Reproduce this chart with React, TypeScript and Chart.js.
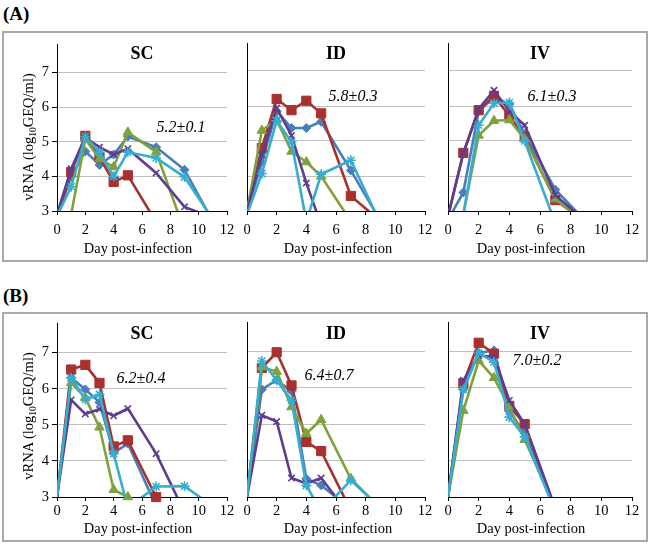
import React, { useEffect, useRef } from "react";
import { Chart, registerables } from "chart.js";
Chart.register(...registerables);

// ---------- data ----------
const days = [0, 1, 2, 3, 4, 5, 7, 9, 11];
const xTicks = [0, 2, 4, 6, 8, 10, 12];
const yTicks = [3, 4, 5, 6, 7];
const panelTitles = ["SC", "ID", "IV"];
const rowLabels = ["(A)", "(B)"];
const meanLabelsA = ["5.2±0.1", "5.8±0.3", "6.1±0.3"];
const meanLabelsB = ["6.2±0.4", "6.4±0.7", "7.0±0.2"];
const xAxisTitle = "Day post-infection";

// Row A — SC
const aScBlue = [2.85, 4.0, 4.72, 4.33, 4.63, 5.15, 4.84, 4.19, 2.7];
const aScRed = [2.8, 4.12, 5.17, 4.55, 3.84, 4.03, 2.68, null, null];
const aScGreen = [2.5, 2.9, 5.08, 4.5, 4.27, 5.27, 4.7, 2.43, null];
const aScPurple = [2.9, 4.22, 5.12, 4.84, 4.63, 4.8, 4.1, 3.12, 2.8];
const aScCyan = [2.85, 3.7, 5.15, 4.7, 4.0, 4.7, 4.53, 3.98, 2.76];
// Row A — ID
const aIdBlue = [3.0, 4.4, 5.85, 5.37, 5.37, 5.55, 4.16, 2.71, null];
const aIdRed = [3.0, 4.8, 6.2, 5.88, 6.15, 5.79, 3.43, 2.71, null];
const aIdGreen = [3.0, 5.3, 5.6, 4.7, 4.4, 3.99, 2.71, null, null];
const aIdPurple = [3.0, 4.6, 5.94, 5.16, 3.8, 2.6, null, null, null];
const aIdCyan = [2.9, 4.07, 5.58, 4.97, 2.7, 4.05, 4.45, 2.64, null];
// Row A — IV
const aIvBlue = [2.75, 3.53, 5.85, 6.25, 6.05, 5.2, 3.61, 2.7, null];
const aIvRed = [2.85, 4.66, 5.88, 6.29, 5.72, 5.11, 3.31, 2.69, null];
const aIvGreen = [2.5, 2.9, 5.16, 5.58, 5.6, 5.06, 3.34, 2.66, null];
const aIvPurple = [2.85, 4.65, 5.92, 6.45, 5.85, 5.45, 3.45, 2.7, null];
const aIvCyan = [2.5, 2.9, 5.45, 6.08, 6.1, 5.0, 2.65, null, null];
// Row B — SC
const bScBlue = [3, 6.3, 5.98, 5.62, 4.22, 4.48, 2.74, null, null];
const bScRed = [3, 6.53, 6.66, 6.16, 4.4, 4.57, 3.0, null, null];
const bScGreen = [3, 6.16, 5.75, 4.93, 3.2, 3.0, null, null, null];
const bScPurple = [3, 5.69, 5.3, 5.43, 5.25, 5.45, 4.2, 2.58, null];
const bScCyan = [3, 6.3, 5.7, 5.84, 4.2, 2.7, 3.29, 3.3, 2.74];
// Row B — ID
const bIdBlue = [3, 5.95, 6.21, 5.9, 3.5, 3.32, 2.67, null, null];
const bIdRed = [3, 6.54, 6.97, 6.06, 4.51, 4.26, 2.63, null, null];
const bIdGreen = [3, 6.56, 6.44, 5.47, 4.74, 5.12, 3.5, 2.69, null];
const bIdPurple = [3, 5.24, 5.07, 3.52, 3.37, 3.52, 2.46, null, null];
const bIdCyan = [3, 6.73, 6.2, 5.65, 3.32, 2.6, 3.46, 2.7, null];
// Row B — IV
const bIvBlue = [3, 5.95, 6.95, 7.02, 5.35, 4.75, 2.65, null, null];
const bIvRed = [3, 6.12, 7.23, 6.93, 5.5, 5.0, 2.65, null, null];
const bIvGreen = [3, 5.37, 6.74, 6.27, 5.47, 4.57, 2.7, null, null];
const bIvPurple = [3, 6.2, 6.88, 6.85, 5.65, 5.0, 2.7, null, null];
const bIvCyan = [3, 5.95, 6.95, 6.7, 5.19, 4.65, 2.6, null, null];

// ---------- styles ----------
const FONT = "'Liberation Serif', 'Times New Roman', serif";
const seriesStyles = [
  { color: "#4A7EBB", style: "rectRot", r: 4.5, bw: 1 },
  { color: "#A8302E", style: "rect", r: 6.5, bw: 1 },
  { color: "#7FA23A", style: "triangle", r: 5.5, bw: 1 },
  { color: "#5E3D91", style: "crossRot", r: 4.5, bw: 1.6 },
  { color: "#36AED0", style: "star", r: 5, bw: 1.6 },
];

const cols = [
  { l: 57, r: 227 },
  { l: 247, r: 425 },
  { l: 448, r: 632 },
];
const rows = [
  { top: 43, bottom: 211, tickPad: 6 },
  { top: 322, bottom: 497, tickPad: 1 },
];

const PADL = 24;
const PADR = 14;
const PADT = 10;
const XH = 30;

function Panel({ col, row, series, showY }: any) {
  const ref = useRef<HTMLCanvasElement>(null);
  const width = col.r - col.l + PADL + PADR;
  const height = row.bottom - row.top + PADT + XH;
  useEffect(() => {
    const datasets: any[] = [];
    series.forEach((vals: (number | null)[], i: number) => {
      const s = seriesStyles[i];
      const pts = days
        .map((d, k) => ({ x: d, y: vals[k] }))
        .filter((p) => p.y !== null && p.y !== undefined);
      datasets.push({
        data: pts,
        showLine: true,
        borderColor: s.color,
        backgroundColor: s.color,
        borderWidth: 2.6,
        pointRadius: 0,
        tension: 0,
        clip: 0,
        order: (4 - i) * 2 + 1,
      });
      datasets.push({
        data: pts.filter((p) => p.x > 0 && (p.y as number) >= 3),
        showLine: false,
        pointStyle: s.style,
        pointRadius: s.r,
        pointBackgroundColor: s.color,
        pointBorderColor: s.color,
        pointBorderWidth: s.bw,
        clip: false,
        order: (4 - i) * 2,
      });
    });
    const chart = new Chart(ref.current as HTMLCanvasElement, {
      type: "scatter",
      data: { datasets },
      options: {
        responsive: false,
        animation: false,
        events: [],
        layout: { padding: { top: PADT, right: PADR, left: 0, bottom: 0 } },
        plugins: {
          legend: { display: false },
          tooltip: { enabled: false },
          title: { display: false },
        },
        scales: {
          x: {
            type: "linear",
            min: 0,
            max: 12,
            afterBuildTicks: (s: any) => {
              s.ticks = xTicks.map((v) => ({ value: v }));
            },
            afterFit: (s: any) => {
              s.height = XH;
            },
            ticks: {
              autoSkip: false,
              maxRotation: 0,
              padding: row.tickPad,
              color: "#000",
              font: { family: FONT, size: 14.5 },
            },
            grid: {
              drawOnChartArea: false,
              drawTicks: true,
              tickLength: 4,
              tickColor: "#000",
            },
            border: { color: "#000", width: 1 },
          },
          y: {
            type: "linear",
            min: 3,
            max: 7.8,
            afterBuildTicks: (s: any) => {
              s.ticks = yTicks.map((v) => ({ value: v }));
            },
            afterFit: (s: any) => {
              s.width = PADL;
            },
            ticks: {
              display: showY,
              padding: 3,
              color: "#000",
              font: { family: FONT, size: 14.5 },
            },
            grid: {
              color: (ctx: any) =>
                ctx.tick && ctx.tick.value === 3 ? "rgba(0,0,0,0)" : "#BFBFBF",
              drawTicks: showY,
              tickLength: 5,
              tickColor: "#000",
              lineWidth: 1,
            },
            border: { color: "#000", width: 1 },
          },
        },
      } as any,
    });
    return () => chart.destroy();
  }, []);
  return (
    <canvas
      ref={ref}
      width={width}
      height={height}
      style={{
        position: "absolute",
        left: col.l - PADL,
        top: row.top - PADT,
        width,
        height,
      }}
    />
  );
}

function Txt({ x, y, children, style }: any) {
  return (
    <div
      style={{
        position: "absolute",
        left: x,
        top: y,
        transform: "translate(-50%, -50%)",
        whiteSpace: "nowrap",
        lineHeight: 1,
        ...style,
      }}
    >
      {children}
    </div>
  );
}

export default function App() {
  const rowSeries = [
    [
      [aScBlue, aScRed, aScGreen, aScPurple, aScCyan],
      [aIdBlue, aIdRed, aIdGreen, aIdPurple, aIdCyan],
      [aIvBlue, aIvRed, aIvGreen, aIvPurple, aIvCyan],
    ],
    [
      [bScBlue, bScRed, bScGreen, bScPurple, bScCyan],
      [bIdBlue, bIdRed, bIdGreen, bIdPurple, bIdCyan],
      [bIvBlue, bIvRed, bIvGreen, bIvPurple, bIvCyan],
    ],
  ];
  const boxes = [
    { top: 31, bottom: 262, labelY: 13 },
    { top: 312, bottom: 542, labelY: 295 },
  ];
  const titleY = [53, 333];
  const dayLabelY = [248, 528];
  const dayLabelX = [138, 338, 531];
  const yLabelY = [137, 416];
  const meanPos = [
    [
      [181, 127],
      [353, 96],
      [552, 96],
    ],
    [
      [141, 378],
      [329, 375],
      [537, 360],
    ],
  ];
  const meanLabels = [meanLabelsA, meanLabelsB];

  return (
    <div
      style={{
        position: "absolute",
        left: 0,
        top: 0,
        width: 650,
        height: 544,
        background: "#fff",
        fontFamily: FONT,
        color: "#000",
        overflow: "hidden",
      }}
    >
      {boxes.map((b, ri) => (
        <React.Fragment key={"box" + ri}>
          <div
            style={{
              position: "absolute",
              left: 2,
              top: b.top,
              width: 646,
              height: b.bottom - b.top,
              boxSizing: "border-box",
              border: "2px solid #A9A9A9",
            }}
          />
          <div
            style={{
              position: "absolute",
              left: 3,
              top: b.labelY,
              transform: "translateY(-50%)",
              fontWeight: "bold",
              fontSize: 19,
              lineHeight: 1,
            }}
          >
            {rowLabels[ri]}
          </div>
        </React.Fragment>
      ))}
      {rows.map((row, ri) =>
        cols.map((col, ci) => (
          <Panel
            key={"p" + ri + ci}
            col={col}
            row={row}
            series={rowSeries[ri][ci]}
            showY={ci === 0}
          />
        ))
      )}
      {rows.map((row, ri) =>
        cols.map((col, ci) => (
          <React.Fragment key={"t" + ri + ci}>
            <Txt
              x={(col.l + col.r) / 2}
              y={titleY[ri]}
              style={{ fontWeight: "bold", fontSize: 18 }}
            >
              {panelTitles[ci]}
            </Txt>
            <Txt x={dayLabelX[ci]} y={dayLabelY[ri]} style={{ fontSize: 14.5 }}>
              {xAxisTitle}
            </Txt>
            <Txt
              x={meanPos[ri][ci][0]}
              y={meanPos[ri][ci][1]}
              style={{ fontStyle: "italic", fontSize: 16 }}
            >
              {meanLabels[ri][ci]}
            </Txt>
          </React.Fragment>
        ))
      )}
      {yLabelY.map((yy, ri) => (
        <div
          key={"yl" + ri}
          style={{
            position: "absolute",
            left: 28,
            top: yy,
            transform: "translate(-50%, -50%) rotate(-90deg)",
            whiteSpace: "nowrap",
            fontSize: 14.5,
            lineHeight: 1,
          }}
        >
          vRNA (log<sub style={{ fontSize: 9.5, verticalAlign: "-3px", lineHeight: 0 }}>10</sub>GEQ/ml)
        </div>
      ))}
    </div>
  );
}
